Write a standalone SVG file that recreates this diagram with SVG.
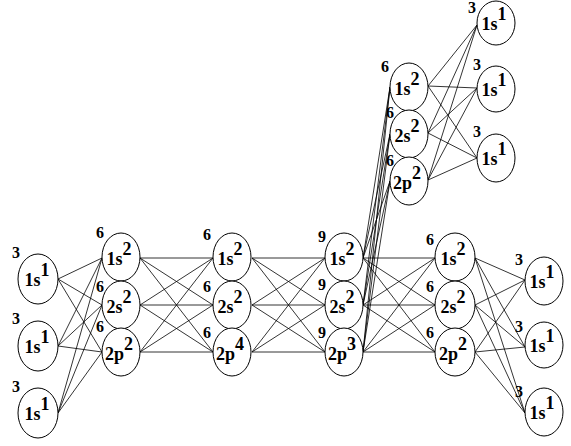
<svg xmlns="http://www.w3.org/2000/svg" width="571" height="446" viewBox="0 0 571 446">
<style>
  .n ellipse { fill: #fff; stroke: #000; stroke-width: 1; }
  .t { font-family: "Liberation Serif", "Times New Roman", serif; font-weight: bold; font-size: 18px; fill: #000; text-anchor: middle; }
  .l { font-family: "Liberation Serif", "Times New Roman", serif; font-weight: bold; font-size: 16px; fill: #000; }
  #edges line { stroke: #000; stroke-width: 0.8; }
</style>
<rect width="571" height="446" fill="#fff"/>
<g id="edges">
  <!-- A -> B -->
  <line x1="58" y1="279" x2="102" y2="258"/><line x1="58" y1="279" x2="102" y2="305"/><line x1="58" y1="279" x2="102" y2="352"/>
  <line x1="58" y1="346" x2="102" y2="258"/><line x1="58" y1="346" x2="102" y2="305"/><line x1="58" y1="346" x2="102" y2="352"/>
  <line x1="58" y1="413" x2="102" y2="258"/><line x1="58" y1="413" x2="102" y2="305"/><line x1="58" y1="413" x2="102" y2="352"/>
  <!-- B -> C -->
  <line x1="140" y1="258" x2="213" y2="258"/><line x1="140" y1="258" x2="213" y2="305"/><line x1="140" y1="258" x2="213" y2="352"/>
  <line x1="140" y1="305" x2="213" y2="258"/><line x1="140" y1="305" x2="213" y2="305"/><line x1="140" y1="305" x2="213" y2="352"/>
  <line x1="140" y1="352" x2="213" y2="258"/><line x1="140" y1="352" x2="213" y2="305"/><line x1="140" y1="352" x2="213" y2="352"/>
  <!-- C -> D -->
  <line x1="252" y1="258" x2="325" y2="258"/><line x1="252" y1="258" x2="325" y2="305"/><line x1="252" y1="258" x2="325" y2="352"/>
  <line x1="252" y1="305" x2="325" y2="258"/><line x1="252" y1="305" x2="325" y2="305"/><line x1="252" y1="305" x2="325" y2="352"/>
  <line x1="252" y1="352" x2="325" y2="258"/><line x1="252" y1="352" x2="325" y2="305"/><line x1="252" y1="352" x2="325" y2="352"/>
  <!-- D -> E -->
  <line x1="363" y1="258" x2="435" y2="258"/><line x1="363" y1="258" x2="435" y2="305"/><line x1="363" y1="258" x2="435" y2="352"/>
  <line x1="363" y1="305" x2="435" y2="258"/><line x1="363" y1="305" x2="435" y2="305"/><line x1="363" y1="305" x2="435" y2="352"/>
  <line x1="363" y1="352" x2="435" y2="258"/><line x1="363" y1="352" x2="435" y2="305"/><line x1="363" y1="352" x2="435" y2="352"/>
  <!-- E -> F -->
  <line x1="475" y1="258" x2="525" y2="280"/><line x1="475" y1="258" x2="525" y2="347"/><line x1="475" y1="258" x2="525" y2="413"/>
  <line x1="475" y1="305" x2="525" y2="280"/><line x1="475" y1="305" x2="525" y2="347"/><line x1="475" y1="305" x2="525" y2="413"/>
  <line x1="475" y1="352" x2="525" y2="280"/><line x1="475" y1="352" x2="525" y2="347"/><line x1="475" y1="352" x2="525" y2="413"/>
  <!-- D -> G -->
  <line x1="363" y1="258" x2="390" y2="87"/><line x1="363" y1="258" x2="390" y2="134"/><line x1="363" y1="258" x2="390" y2="181"/>
  <line x1="363" y1="305" x2="390" y2="87"/><line x1="363" y1="305" x2="390" y2="134"/><line x1="363" y1="305" x2="390" y2="181"/>
  <line x1="363" y1="352" x2="390" y2="87"/><line x1="363" y1="352" x2="390" y2="134"/><line x1="363" y1="352" x2="390" y2="181"/>
  <!-- G -> H -->
  <line x1="428" y1="86" x2="477" y2="25"/><line x1="428" y1="86" x2="477" y2="88"/><line x1="428" y1="86" x2="477" y2="158"/>
  <line x1="428" y1="133" x2="477" y2="25"/><line x1="428" y1="133" x2="477" y2="88"/><line x1="428" y1="133" x2="477" y2="158"/>
  <line x1="428" y1="180" x2="477" y2="25"/><line x1="428" y1="180" x2="477" y2="88"/><line x1="428" y1="180" x2="477" y2="158"/>
</g>

<!-- Column A -->
<g id="a1" class="n"><ellipse cx="38" cy="279" rx="20" ry="25"/><text class="l" x="12" y="258">3</text><text class="t" x="37" y="286">1s<tspan dy="-10">1</tspan></text></g>
<g id="a2" class="n"><ellipse cx="38" cy="346" rx="20" ry="25"/><text class="l" x="12" y="324">3</text><text class="t" x="37" y="353">1s<tspan dy="-10">1</tspan></text></g>
<g id="a3" class="n"><ellipse cx="38" cy="413" rx="20" ry="25"/><text class="l" x="12" y="392">3</text><text class="t" x="37" y="420">1s<tspan dy="-10">1</tspan></text></g>

<!-- Column B -->
<g id="b1" class="n"><ellipse cx="121" cy="257" rx="19" ry="24"/><text class="l" x="96" y="238">6</text><text class="t" x="119" y="265">1s<tspan dy="-10">2</tspan></text></g>
<g id="b2" class="n"><ellipse cx="121" cy="305" rx="19" ry="24"/><text class="l" x="96" y="292">6</text><text class="t" x="119" y="313">2s<tspan dy="-10">2</tspan></text></g>
<g id="b3" class="n"><ellipse cx="121" cy="352" rx="19" ry="24"/><text class="l" x="96" y="332">6</text><text class="t" x="119" y="360">2p<tspan dy="-10">2</tspan></text></g>

<!-- Column C -->
<g id="c1" class="n"><ellipse cx="232" cy="257" rx="19" ry="24"/><text class="l" x="203" y="240">6</text><text class="t" x="230" y="265">1s<tspan dy="-10">2</tspan></text></g>
<g id="c2" class="n"><ellipse cx="232" cy="305" rx="19" ry="24"/><text class="l" x="203" y="292">6</text><text class="t" x="230" y="313">2s<tspan dy="-10">2</tspan></text></g>
<g id="c3" class="n"><ellipse cx="232" cy="352" rx="19" ry="24"/><text class="l" x="203" y="338">6</text><text class="t" x="230" y="360">2p<tspan dy="-10">4</tspan></text></g>

<!-- Column D -->
<g id="d1" class="n"><ellipse cx="344" cy="257" rx="19" ry="24"/><text class="l" x="318" y="242">9</text><text class="t" x="342" y="265">1s<tspan dy="-10">2</tspan></text></g>
<g id="d2" class="n"><ellipse cx="344" cy="305" rx="19" ry="24"/><text class="l" x="318" y="290">9</text><text class="t" x="342" y="313">2s<tspan dy="-10">2</tspan></text></g>
<g id="d3" class="n"><ellipse cx="344" cy="352" rx="19" ry="24"/><text class="l" x="318" y="338">9</text><text class="t" x="342" y="360">2p<tspan dy="-10">3</tspan></text></g>

<!-- Column E -->
<g id="e1" class="n"><ellipse cx="455" cy="257" rx="20" ry="24"/><text class="l" x="426" y="245">6</text><text class="t" x="453" y="265">1s<tspan dy="-10">2</tspan></text></g>
<g id="e2" class="n"><ellipse cx="455" cy="305" rx="20" ry="24"/><text class="l" x="426" y="292">6</text><text class="t" x="453" y="313">2s<tspan dy="-10">2</tspan></text></g>
<g id="e3" class="n"><ellipse cx="455" cy="352" rx="20" ry="24"/><text class="l" x="426" y="338">6</text><text class="t" x="453" y="360">2p<tspan dy="-10">2</tspan></text></g>

<!-- Column F -->
<g id="f1" class="n"><ellipse cx="544" cy="281" rx="19" ry="24"/><text class="l" x="515" y="265">3</text><text class="t" x="542" y="288">1s<tspan dy="-10">1</tspan></text></g>
<g id="f2" class="n"><ellipse cx="544" cy="345" rx="19" ry="23"/><text class="l" x="515" y="332">3</text><text class="t" x="542" y="352">1s<tspan dy="-10">1</tspan></text></g>
<g id="f3" class="n"><ellipse cx="544" cy="412" rx="19" ry="24"/><text class="l" x="515" y="397">3</text><text class="t" x="542" y="419">1s<tspan dy="-10">1</tspan></text></g>

<!-- Column G (upper branch) -->
<g id="g1" class="n"><ellipse cx="409" cy="87" rx="19" ry="24"/><text class="l" x="381" y="72">6</text><text class="t" x="407" y="95">1s<tspan dy="-10">2</tspan></text></g>
<g id="g2" class="n"><ellipse cx="409" cy="134" rx="19" ry="24"/><text class="l" x="386" y="118">6</text><text class="t" x="407" y="142">2s<tspan dy="-10">2</tspan></text></g>
<g id="g3" class="n"><ellipse cx="409" cy="181" rx="19" ry="24"/><text class="l" x="386" y="166">6</text><text class="t" x="407" y="189">2p<tspan dy="-10">2</tspan></text></g>

<!-- Column H (upper branch) -->
<g id="h1" class="n"><ellipse cx="496" cy="23" rx="19" ry="22"/><text class="l" x="468" y="13">3</text><text class="t" x="494" y="30">1s<tspan dy="-10">1</tspan></text></g>
<g id="h2" class="n"><ellipse cx="496" cy="89" rx="19" ry="23"/><text class="l" x="473" y="70">3</text><text class="t" x="494" y="96">1s<tspan dy="-10">1</tspan></text></g>
<g id="h3" class="n"><ellipse cx="496" cy="158" rx="19" ry="24"/><text class="l" x="473" y="137">3</text><text class="t" x="494" y="165">1s<tspan dy="-10">1</tspan></text></g>
</svg>
